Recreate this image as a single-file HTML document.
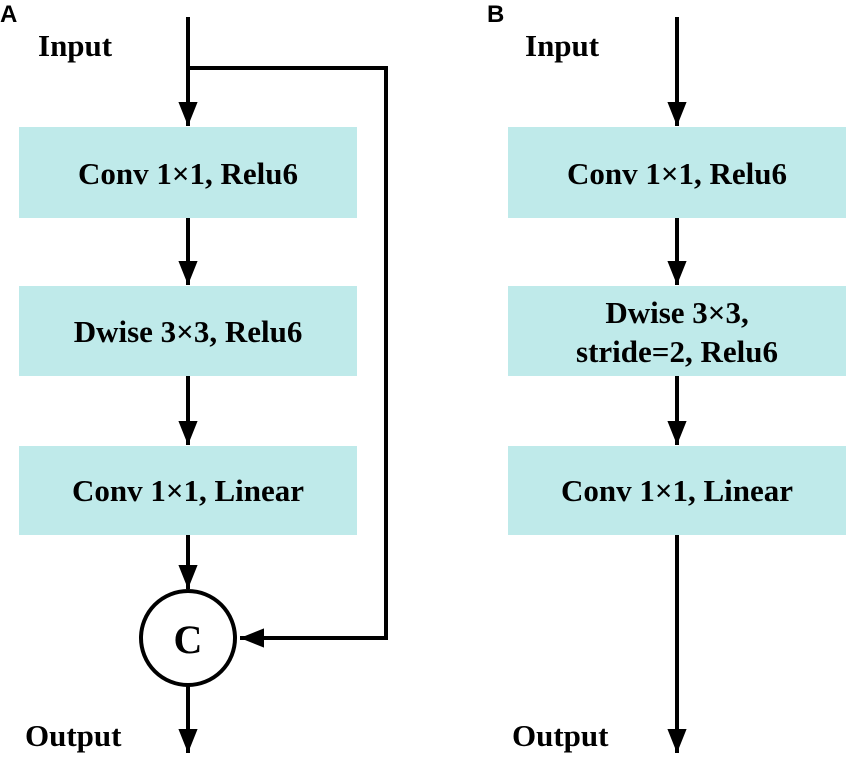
<!DOCTYPE html>
<html><head><style>
body{margin:0;background:#fff}
svg{display:block}
text{font-family:"Liberation Serif",serif;font-weight:bold;font-size:31px;fill:#000}
</style></head><body>
<svg width="848" height="759" viewBox="0 0 848 759" xmlns="http://www.w3.org/2000/svg">
<defs><marker id="a" markerUnits="userSpaceOnUse" markerWidth="24" markerHeight="32" refX="30" refY="12" orient="auto" viewBox="0 0 30 24"><path d="M0,0 L30,12 L0,24 Z" fill="#000"/></marker></defs>
<text x="0" y="22" style="font-family:'Liberation Sans',sans-serif;font-size:24px">A</text>
<text x="487" y="22" style="font-family:'Liberation Sans',sans-serif;font-size:24px">B</text>
<g fill="#bfeaea">
<rect x="19" y="127" width="338" height="91"/><rect x="19" y="286" width="338" height="90"/><rect x="19" y="446" width="338" height="89"/>
<rect x="508" y="127" width="338" height="91"/><rect x="508" y="286" width="338" height="90"/><rect x="508" y="446" width="338" height="89"/>
</g>
<g stroke="#000" stroke-width="4" fill="none">
<line x1="188" y1="17" x2="188" y2="126" marker-end="url(#a)"/>
<polyline points="188,68 386,68 386,638 240,638" marker-end="url(#a)"/>
<line x1="188" y1="218" x2="188" y2="285" marker-end="url(#a)"/>
<line x1="188" y1="376" x2="188" y2="445" marker-end="url(#a)"/>
<line x1="188" y1="535" x2="188" y2="589" marker-end="url(#a)"/>
<circle cx="188" cy="638" r="47"/>
<line x1="188" y1="685" x2="188" y2="753" marker-end="url(#a)"/>
<line x1="677" y1="17" x2="677" y2="126" marker-end="url(#a)"/>
<line x1="677" y1="218" x2="677" y2="285" marker-end="url(#a)"/>
<line x1="677" y1="376" x2="677" y2="445" marker-end="url(#a)"/>
<line x1="677" y1="535" x2="677" y2="753" marker-end="url(#a)"/>
</g>
<text x="38" y="56">Input</text>
<text x="525" y="56">Input</text>
<text x="25" y="746">Output</text>
<text x="512" y="746">Output</text>
<text x="188" y="653" text-anchor="middle" style="font-size:40px">C</text>
<g text-anchor="middle">
<text x="188" y="184">Conv 1×1,  Relu6</text>
<text x="188" y="342">Dwise 3×3,  Relu6</text>
<text x="188" y="501">Conv 1×1,  Linear</text>
<text x="677" y="184">Conv 1×1,  Relu6</text>
<text x="677" y="323">Dwise 3×3,</text>
<text x="677" y="362">stride=2,  Relu6</text>
<text x="677" y="501">Conv 1×1,  Linear</text>
</g>
</svg>
</body></html>
